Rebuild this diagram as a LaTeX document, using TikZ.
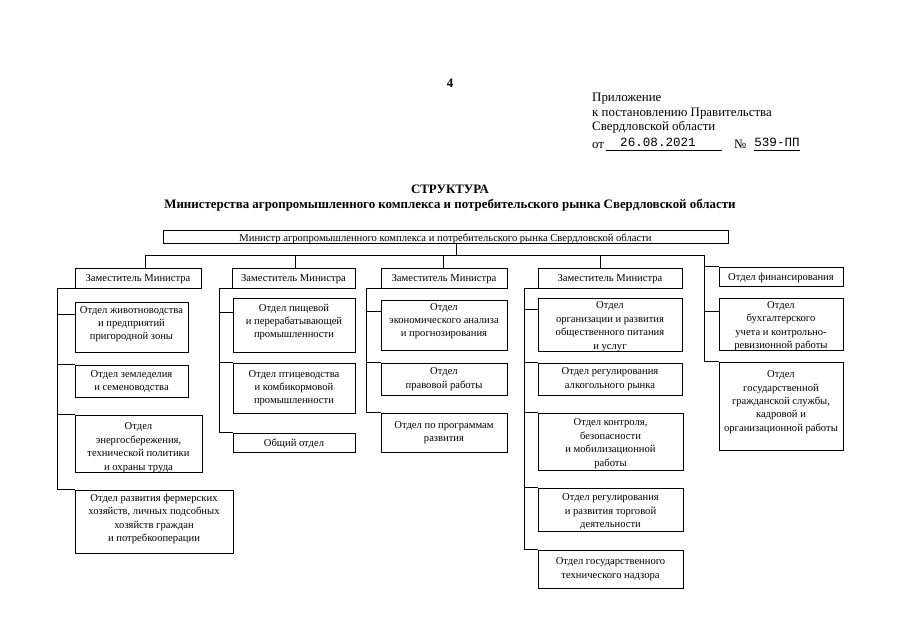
\documentclass[tikz,border=0pt]{standalone}
\usepackage{fontspec}
\setmainfont{Liberation Serif}
\newfontfamily\monof{Liberation Mono}
\tikzset{
  box/.style={draw=black, line width=0.75pt, align=center, inner sep=0pt,
    font=\fontsize{10.6}{13.4}\selectfont},
  conn/.style={draw=black, line width=0.75pt},
  hdr/.style={anchor=base west, inner sep=0pt, font=\fontsize{12.9}{14}\selectfont},
  ttl/.style={anchor=base, inner sep=0pt, font=\fontsize{12.9}{14}\selectfont\bfseries},
  mono/.style={anchor=base, inner sep=0pt, font=\fontsize{12.6}{14}\monof},
  uline/.style={draw=black, line width=0.6pt},
}
% #1 name, #2-#5 box x1 y1 x2 y2 (pixels), #6 text, #7 raise of text (pt)
\newcommand\obox[7]{\node[box, minimum width={#4pt-#2pt}, minimum height={#5pt-#3pt}] (#1) at ({(#2+#4)/2},{(#3+#5)/2}) {\raisebox{\dimexpr#7pt-4.6pt\relax}[0pt][0pt]{\begin{tabular}{@{}c@{}}#6\end{tabular}}};}
\begin{document}
\begin{tikzpicture}[x=1pt,y=-1pt]
\useasboundingbox[fill=white] (0,0) rectangle (905,640);
% header
\node[ttl] (pg) at (450,87) {4};
\node[hdr] (h1) at (592,101.5) {Приложение};
\node[hdr] (h2) at (592,116.5) {к постановлению Правительства};
\node[hdr] (h3) at (592,130.5) {Свердловской области};
\node[hdr] (h4) at (592,148) {от};
\node[mono] (dt) at (658,146) {26.08.2021};
\node[hdr] (nr) at (734,148) {№};
\node[mono] (nm) at (777,146) {539-ПП};
\coordinate (u1a) at (606,150); \coordinate (u1b) at (722,150);
\coordinate (u2a) at (754,150); \coordinate (u2b) at (800,150);
\draw[uline] (u1a) -- (u1b);
\draw[uline] (u2a) -- (u2b);
\node[ttl] (t1) at (450,193) {СТРУКТУРА};
\node[ttl] (t2) at (450,208.5) {Министерства агропромышленного комплекса и потребительского рынка Свердловской области};
% minister
\obox{mn}{163}{230}{728}{243}{Министр агропромышленного комплекса и потребительского рынка Свердловской области}{0}
% deputies
\obox{dA}{75}{268}{201}{288}{Заместитель Министра}{1}
\obox{dB}{232}{268}{355}{288}{Заместитель Министра}{1}
\obox{dC}{381}{268}{507}{288}{Заместитель Министра}{1}
\obox{dD}{538}{268}{682}{288}{Заместитель Министра}{1}
\obox{e0}{719}{267}{843}{286}{Отдел финансирования}{1}
% column 1
\obox{a1}{75}{302}{188}{352}{Отдел животноводства\\и предприятий\\пригородной зоны}{5}
\obox{a2}{75}{365}{188}{397}{Отдел земледелия\\и семеноводства}{1.5}
\obox{a3}{75}{415}{202}{472}{Отдел\\энергосбережения,\\технической политики\\и охраны труда}{-2}
\obox{a4}{75}{490}{233}{553}{Отдел развития фермерских\\хозяйств, личных подсобных\\хозяйств граждан\\и потребкооперации}{4.5}
% column 2
\obox{b1}{233}{298}{355}{352}{Отдел пищевой\\и перерабатывающей\\промышленности}{5}
\obox{b2}{233}{363}{355}{413}{Отдел птицеводства\\и комбикормовой\\промышленности}{2}
\obox{b3}{233}{433}{355}{452}{Общий отдел}{1}
% column 3
\obox{c1}{381}{300}{507}{350}{Отдел\\экономического анализа\\и прогнозирования}{6}
\obox{c2}{381}{363}{507}{395}{Отдел\\правовой работы}{2}
\obox{c3}{381}{413}{507}{452}{Отдел по программам\\развития}{2}
% column 4
\obox{d1}{538}{298}{682}{351}{Отдел\\организации и развития\\общественного питания\\и услуг}{0}
\obox{d2}{538}{363}{682}{395}{Отдел регулирования\\алкогольного рынка}{2}
\obox{d3}{538}{413}{683}{470}{Отдел контроля,\\безопасности\\и мобилизационной\\работы}{0}
\obox{d4}{538}{488}{683}{531}{Отдел регулирования\\и развития торговой\\деятельности}{0}
\obox{d5}{538}{550}{683}{588}{Отдел государственного\\технического надзора}{2}
% column 5
\obox{e1}{719}{298}{843}{350}{Отдел\\бухгалтерского\\учета и контрольно-\\ревизионной работы}{0}
\obox{e2}{719}{362}{843}{450}{Отдел\\государственной\\гражданской службы,\\кадровой и\\организационной работы}{6}
% top connectors
\coordinate (busL) at (145,255);
\coordinate (busR) at (704,255);
\coordinate (bB) at (295,255);
\coordinate (bC) at (443,255);
\coordinate (bD) at (600,255);
\draw[conn] ([xshift=11pt]mn.south) -- ([xshift=11pt]mn.south |- busL);
\draw[conn] (busL) -- (busR) |- (e2.north west);
\draw[conn] (busL) -- (busL |- dA.north);
\draw[conn] (bB) -- (bB |- dB.north);
\draw[conn] (bC) -- (bC |- dC.north);
\draw[conn] (bD) -- (bD |- dD.north);
\draw[conn] (busR |- e0.north west) -- (e0.north west);
\coordinate (e1s) at ([yshift=-14pt]e1.north west);
\draw[conn] (busR |- e1s) -- (e1s);
% column 1 connectors
\coordinate (vA) at ([xshift=-17pt]dA.south west);
\coordinate (a1s) at ([yshift=-13pt]a1.north west);
\draw[conn] (dA.south west) -- (vA) |- (a4.north west);
\draw[conn] (vA |- a1s) -- (a1s);
\draw[conn] (vA |- a2.north west) -- (a2.north west);
\draw[conn] (vA |- a3.north west) -- (a3.north west);
% column 2 connectors
\coordinate (vB) at ([xshift=-12pt]dB.south west);
\coordinate (b1s) at ([yshift=-15pt]b1.north west);
\draw[conn] (dB.south west) -- (vB) |- (b3.north west);
\draw[conn] (vB |- b1s) -- (b1s);
\draw[conn] (vB |- b2.north west) -- (b2.north west);
% column 3 connectors
\coordinate (vC) at ([xshift=-14pt]dC.south west);
\coordinate (c1s) at ([yshift=-12pt]c1.north west);
\draw[conn] (dC.south west) -- (vC) |- (c3.north west);
\draw[conn] (vC |- c1s) -- (c1s);
\draw[conn] (vC |- c2.north west) -- (c2.north west);
% column 4 connectors
\coordinate (vD) at ([xshift=-13pt]dD.south west);
\coordinate (d1s) at ([yshift=-12pt]d1.north west);
\draw[conn] (dD.south west) -- (vD) |- (d5.north west);
\draw[conn] (vD |- d1s) -- (d1s);
\draw[conn] (vD |- d2.north west) -- (d2.north west);
\draw[conn] (vD |- d3.north west) -- (d3.north west);
\draw[conn] (vD |- d4.north west) -- (d4.north west);
\end{tikzpicture}
\end{document}
